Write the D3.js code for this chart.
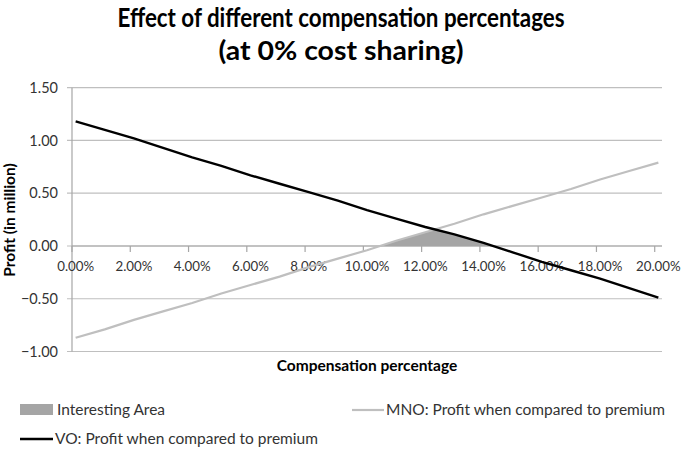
<!DOCTYPE html>
<html><head><meta charset="utf-8">
<script src="https://cdn.jsdelivr.net/npm/d3@7"></script>
<style>body{margin:0;background:#fff}svg{display:block}text{font-family:Lato,"Open Sans",sans-serif}</style>
</head><body><svg id="c" width="685" height="451"></svg>
<script>
const percents = [0,1,2,3,4,5,6,7,8,9,10,11,12,13,14,15,16,17,18,19,20];
const voProfit  = [1.18,1.10,1.02,0.93,0.84,0.76,0.67,0.59,0.51,0.43,0.34,0.26,0.18,0.11,0.03,-0.06,-0.15,-0.23,-0.31,-0.40,-0.49];
const mnoProfit = [-0.87,-0.79,-0.70,-0.62,-0.54,-0.45,-0.37,-0.29,-0.20,-0.12,-0.04,0.05,0.13,0.21,0.30,0.38,0.46,0.54,0.63,0.71,0.79];
const xTicks = [0,2,4,6,8,10,12,14,16,18,20];
const yTicks = [1.5,1.0,0.5,0.0,-0.5,-1.0];
const titleLines = ["Effect of different compensation percentages","(at 0% cost sharing)"];

const svg = d3.select("#c");
const step = 0.25;
const x = d3.scaleLinear().domain([-step/2, 20+step/2]).range([72, 662]);
const y = d3.scaleLinear().domain([-1, 1.5]).range([351.5, 87.7]);
const gridC = "#bfbfbf", axisC = "#a6a6a6";

svg.append("g").selectAll("line").data(yTicks).join("line")
  .attr("x1", 67).attr("x2", 662).attr("y1", d=>y(d)).attr("y2", d=>y(d))
  .attr("stroke", gridC).attr("stroke-width", 1.2);
svg.append("line").attr("x1",72).attr("x2",72).attr("y1",y(1.5)).attr("y2",y(-1))
  .attr("stroke", axisC).attr("stroke-width",1.2);
svg.append("g").selectAll("text").data(yTicks).join("text")
  .attr("x", 58).attr("y", d=>y(d)).attr("dy","0.35em").attr("text-anchor","end")
  .attr("font-size",14.5).attr("fill","#333").text(d=>d3.format(".2f")(d));
svg.append("line").attr("x1",72).attr("x2",662).attr("y1",y(0)).attr("y2",y(0))
  .attr("stroke", axisC).attr("stroke-width",1.2);
svg.append("g").selectAll("line").data(xTicks).join("line")
  .attr("x1", d=>x(d-step/2)).attr("x2", d=>x(d-step/2))
  .attr("y1", y(0)).attr("y2", y(0)+6).attr("stroke", axisC).attr("stroke-width",1.2);
svg.append("g").selectAll("text").data(xTicks).join("text")
  .attr("x", d=>x(d)).attr("y", y(0)+20).attr("dy","0.35em").attr("text-anchor","middle")
  .attr("font-size",13.3).attr("fill","#333").text(d=>d3.format(".2f")(d)+"%");

const pts = percents.map((p,i)=>({p, vo:voProfit[i], mno:mnoProfit[i]}));
const defs = svg.append("defs");
defs.append("clipPath").attr("id","belowVO").append("path")
  .attr("d", d3.area().x(d=>x(d.p)).y0(y(0)).y1(d=>y(d.vo))(pts));
defs.append("clipPath").attr("id","aboveZero").append("rect")
  .attr("x",72).attr("y",y(1.5)).attr("width",590).attr("height",y(0)-y(1.5));
svg.append("g").attr("clip-path","url(#aboveZero)")
  .append("g").attr("clip-path","url(#belowVO)")
  .append("path").attr("d", d3.area().x(d=>x(d.p)).y0(y(0)).y1(d=>y(d.mno))(pts))
  .attr("fill","#a5a5a5");

const line = key => d3.line().x(d=>x(d.p)).y(d=>y(d[key]));
svg.append("path").attr("d", line("mno")(pts)).attr("fill","none")
  .attr("stroke","#bfbfbf").attr("stroke-width",2.2);
svg.append("path").attr("d", line("vo")(pts)).attr("fill","none")
  .attr("stroke","#000").attr("stroke-width",2.4);

const titleW = [447, 245];
svg.append("g").selectAll("text").data(titleLines).join("text")
  .attr("x", 341).attr("y",(d,i)=>27+i*33).attr("text-anchor","middle")
  .attr("font-size",27).attr("font-weight","bold").attr("fill","#000")
  .attr("textLength",(d,i)=>titleW[i]).attr("lengthAdjust","spacingAndGlyphs").text(d=>d);
svg.append("text").attr("transform","translate(15,220) rotate(-90)").attr("text-anchor","middle")
  .attr("font-size",15.5).attr("font-weight","bold").attr("fill","#000").text("Profit (in million)");
svg.append("text").attr("x",367).attr("y",371).attr("text-anchor","middle")
  .attr("font-size",15.5).attr("font-weight","bold").attr("fill","#000").text("Compensation percentage");

const lg = svg.append("g").attr("font-size",15.5).attr("fill","#333");
lg.append("rect").attr("x",20).attr("y",404).attr("width",33).attr("height",11).attr("fill","#a5a5a5");
lg.append("text").attr("x",57).attr("y",410).attr("dy","0.35em").text("Interesting Area");
lg.append("line").attr("x1",352).attr("x2",384).attr("y1",410).attr("y2",410).attr("stroke","#bfbfbf").attr("stroke-width",2.2);
lg.append("text").attr("x",386).attr("y",410).attr("dy","0.35em").text("MNO: Profit when compared to premium");
lg.append("line").attr("x1",20).attr("x2",53).attr("y1",439).attr("y2",439).attr("stroke","#000").attr("stroke-width",2.4);
lg.append("text").attr("x",55).attr("y",439).attr("dy","0.35em").text("VO: Profit when compared to premium");
</script></body></html>
